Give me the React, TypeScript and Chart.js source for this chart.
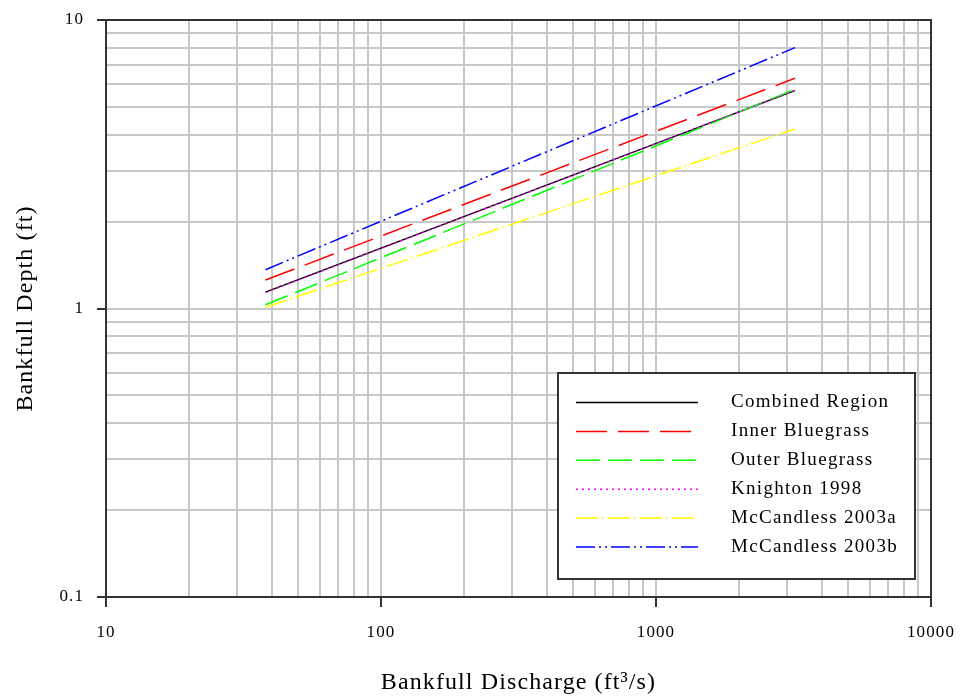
import React, { useEffect, useRef } from 'react';
import { Chart, registerables } from 'chart.js';

Chart.register(...registerables);

// ---- Data ----
const discharge = [38, 3200];
const combinedRegion = [1.14, 5.69];
const innerBluegrass = [1.255, 6.28];
const outerBluegrass = [1.03, 5.75];
const knighton1998 = [1.135, 5.7];
const mcCandless2003a = [1.01, 4.19];
const mcCandless2003b = [1.363, 8.02];

const seriesNames = [
  'Combined Region',
  'Inner Bluegrass',
  'Outer Bluegrass',
  'Knighton 1998',
  'McCandless 2003a',
  'McCandless 2003b',
];
const seriesValues = [
  combinedRegion,
  innerBluegrass,
  outerBluegrass,
  knighton1998,
  mcCandless2003a,
  mcCandless2003b,
];
const seriesColors = ['#000000', '#ff0000', '#00ff00', '#ff00ff', '#ffff00', '#0000ff'];
const seriesDashes: number[][] = [
  [],
  [31, 11],
  [24, 8],
  [2, 4],
  [22, 4, 2, 4],
  [19, 4, 2, 4, 2, 4],
];
const seriesDrawOrder = [5, 4, 3, 1, 6, 2];

// ---- Axis ticks ----
const xGridValues = [
  10, 20, 30, 40, 50, 60, 70, 80, 90,
  100, 200, 300, 400, 500, 600, 700, 800, 900,
  1000, 2000, 3000, 4000, 5000, 6000, 7000, 8000, 9000,
  10000,
];
const xLabelValues = [10, 100, 1000, 10000];
const yGridValues = [
  0.1, 0.2, 0.3, 0.4, 0.5, 0.6, 0.7, 0.8, 0.9,
  1, 2, 3, 4, 5, 6, 7, 8, 9,
  10,
];
const yLabelValues = [0.1, 1, 10];

const xTitle = 'Bankfull Discharge (ft\u00B3/s)';
const yTitle = 'Bankfull Depth (ft)';

const FONT = '"Liberation Serif", "Times New Roman", serif';
const GRID = '#c8c8c8';
const FRAME = '#333333';

const spacingPlugin = {
  id: 'spacing',
  beforeDraw(chart: any) {
    chart.ctx.letterSpacing = '1.1px';
  },
};

const framePlugin = {
  id: 'frame',
  afterDatasetsDraw(chart: any) {
    const { ctx, chartArea } = chart;
    ctx.save();
    ctx.strokeStyle = FRAME;
    ctx.lineWidth = 2;
    ctx.strokeRect(chartArea.left, chartArea.top, chartArea.right - chartArea.left, chartArea.bottom - chartArea.top);
    ctx.restore();
  },
};

const boxLegendPlugin = {
  id: 'boxLegend',
  afterDraw(chart: any) {
    const { ctx, chartArea } = chart;
    const w = 357;
    const h = 206;
    const right = chartArea.right - 16;
    const bottom = chartArea.bottom - 18;
    const left = right - w;
    const top = bottom - h;
    ctx.save();
    ctx.fillStyle = '#ffffff';
    ctx.fillRect(left, top, w, h);
    ctx.strokeStyle = FRAME;
    ctx.lineWidth = 2;
    ctx.strokeRect(left, top, w, h);
    chart.data.datasets.forEach((ds: any, i: number) => {
      const y = top + 29.5 + i * 28.9;
      ctx.beginPath();
      ctx.setLineDash(ds.borderDash || []);
      ctx.strokeStyle = ds.borderColor;
      ctx.lineWidth = 1.5;
      ctx.moveTo(left + 18, y);
      ctx.lineTo(left + 140, y);
      ctx.stroke();
      ctx.setLineDash([]);
      ctx.fillStyle = '#000000';
      ctx.font = '19px ' + FONT;
      ctx.letterSpacing = '1.3px';
      ctx.textBaseline = 'middle';
      ctx.textAlign = 'left';
      ctx.fillText(ds.label, left + 173, y);
    });
    ctx.restore();
  },
};

const zeroPad = (scale: any) => {
  scale.paddingLeft = 0;
  scale.paddingRight = 0;
  scale.paddingTop = 0;
  scale.paddingBottom = 0;
};

export default function App() {
  const canvasRef = useRef<HTMLCanvasElement | null>(null);

  useEffect(() => {
    document.body.style.margin = '0';
    const canvas = canvasRef.current;
    if (!canvas) return;

    const datasets = seriesNames.map((name, i) => ({
      label: name,
      data: discharge.map((q, j) => ({ x: q, y: seriesValues[i][j] })),
      borderColor: seriesColors[i],
      backgroundColor: seriesColors[i],
      borderDash: seriesDashes[i],
      borderWidth: 1.5,
      pointRadius: 0,
      showLine: true,
      tension: 0,
      order: seriesDrawOrder[i],
    }));

    const chart = new Chart(canvas, {
      type: 'scatter',
      data: { datasets },
      plugins: [spacingPlugin, framePlugin, boxLegendPlugin],
      options: {
        animation: false,
        responsive: false,
        devicePixelRatio: 1,
        layout: { padding: { top: 20, right: 29, left: 0, bottom: 0 } },
        plugins: {
          legend: { display: false },
          tooltip: { enabled: false },
        },
        scales: {
          x: {
            type: 'logarithmic',
            min: 10,
            max: 10000,
            afterBuildTicks: (scale: any) => {
              scale.ticks = xGridValues.map((v) => ({ value: v, major: xLabelValues.includes(v) }));
            },
            afterFit: (scale: any) => {
              scale.height = 101;
              zeroPad(scale);
            },
            grid: {
              color: GRID,
              lineWidth: 2,
              drawTicks: true,
              tickLength: 10,
              tickWidth: 2,
              tickColor: (c: any) => (c.tick && xLabelValues.includes(c.tick.value) ? FRAME : 'rgba(0,0,0,0)'),
            },
            border: { display: false },
            ticks: {
              autoSkip: false,
              maxRotation: 0,
              padding: 15,
              color: '#000000',
              font: { family: FONT, size: 17 },
              callback: (v: any) => (xLabelValues.includes(Number(v)) ? String(v) : ''),
            },
            title: {
              display: true,
              text: xTitle,
              color: '#000000',
              font: { family: FONT, size: 24 },
              padding: { top: 0, bottom: 1 },
            },
          },
          y: {
            type: 'logarithmic',
            min: 0.1,
            max: 10,
            afterBuildTicks: (scale: any) => {
              scale.ticks = yGridValues.map((v) => ({ value: v, major: yLabelValues.includes(v) }));
            },
            afterFit: (scale: any) => {
              scale.width = 106;
              zeroPad(scale);
            },
            grid: {
              color: GRID,
              lineWidth: 2,
              drawTicks: true,
              tickLength: 9,
              tickWidth: 2,
              tickColor: (c: any) => (c.tick && yLabelValues.includes(c.tick.value) ? FRAME : 'rgba(0,0,0,0)'),
            },
            border: { display: false },
            ticks: {
              autoSkip: false,
              padding: 13,
              color: '#000000',
              font: { family: FONT, size: 17 },
              callback: (v: any) => (yLabelValues.includes(Number(v)) ? String(v) : ''),
            },
            title: {
              display: true,
              text: yTitle,
              color: '#000000',
              font: { family: FONT, size: 24 },
              padding: { top: 11, bottom: 0 },
            },
          },
        },
      } as any,
    });

    return () => {
      chart.destroy();
    };
  }, []);

  return (
    <div style={{ width: 960, height: 698, background: '#ffffff' }}>
      <canvas ref={canvasRef} width={960} height={698} style={{ display: 'block' }} />
    </div>
  );
}
